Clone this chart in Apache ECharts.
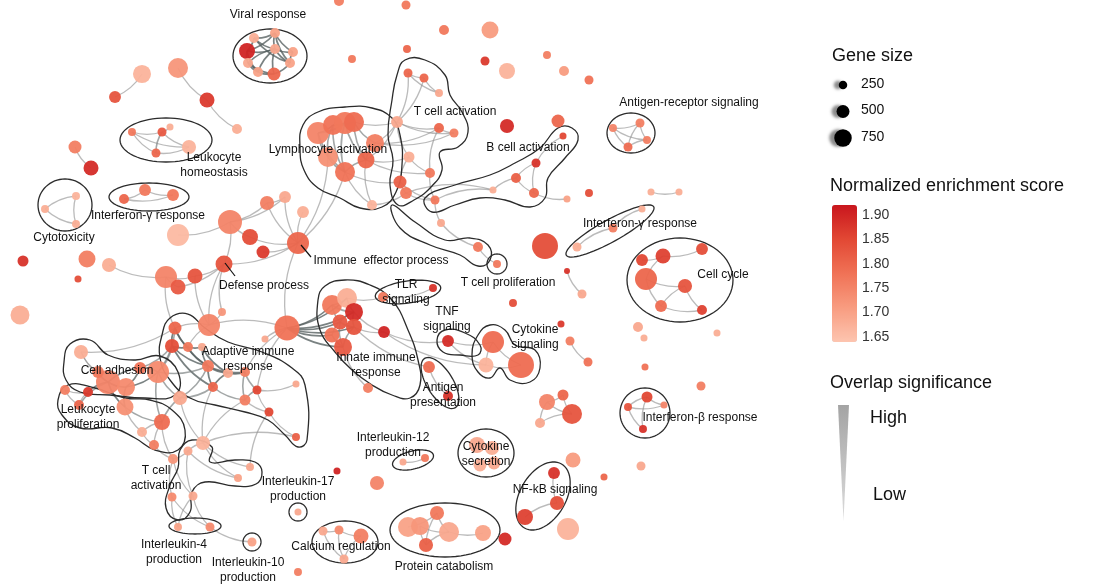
<!DOCTYPE html>
<html>
<head>
<meta charset="utf-8">
<script src="https://cdn.jsdelivr.net/npm/echarts/dist/echarts.min.js"></script>
<style>
  html, body { margin: 0; padding: 0; background: #ffffff; }
  #chart { width: 1115px; height: 588px; }
</style>
</head>
<body>
<div id="chart"></div>
<script>
// Enrichment map of immune gene sets.
// Each gene set: [id, layout x, layout y, normalized enrichment score, gene count]
const geneSets = [
  ['a1',115,97,1.83,440], ['a2',142,74,1.67,780], ['a3',178,68,1.72,890], ['a4',207,100,1.87,610], ['a5',237,129,1.68,330],
  ['lh1',132,132,1.77,220], ['lh2',162,132,1.82,280], ['lh3',170,127,1.68,170], ['lh4',156,153,1.80,280], ['lh5',189,147,1.67,560],
  ['p1',75,147,1.76,500], ['p2',91,168,1.89,610],
  ['ct1',76,196,1.67,220], ['ct2',45,209,1.68,220], ['ct3',76,224,1.68,220],
  ['ig1',124,199,1.80,330], ['ig2',145,190,1.77,440], ['ig3',173,195,1.77,440],
  ['s1',23,261,1.88,390], ['s2',87,259,1.76,720], ['s3',109,265,1.68,560], ['s4',78,279,1.84,170], ['s5',20,315,1.68,830],
  ['d1',166,277,1.75,1000], ['d2',178,287,1.82,610], ['d3',195,276,1.83,610], ['d4',178,235,1.66,1000],
  ['d5',224,264,1.83,720], ['d6',230,222,1.75,1110], ['d7',250,237,1.84,670], ['d8',263,252,1.87,500],
  ['d9',267,203,1.76,560], ['d10',285,197,1.69,440], ['d11',303,212,1.68,440], ['d12',298,243,1.80,1000],
  ['v1',247,51,1.90,670], ['v2',254,38,1.68,330], ['v3',275,33,1.70,330], ['v4',275,49,1.69,330], ['v5',293,52,1.70,330],
  ['v6',248,63,1.69,330], ['v7',258,72,1.70,330], ['v8',274,74,1.80,500], ['v9',290,63,1.70,330],
  ['la1',318,133,1.75,1000], ['la2',333,125,1.78,890], ['la3',345,123,1.77,1000], ['la4',354,122,1.79,890],
  ['la5',375,143,1.76,780], ['la6',366,160,1.80,720], ['la7',328,157,1.73,890], ['la8',345,172,1.78,890], ['la9',372,205,1.67,330],
  ['tc1',408,73,1.80,280], ['tc2',424,78,1.80,280], ['tc3',439,93,1.69,220], ['tc4',397,122,1.69,440], ['tc5',439,128,1.80,330],
  ['tc6',454,133,1.76,280], ['tc7',409,157,1.68,390], ['tc8',430,173,1.77,330], ['tc9',400,182,1.81,500], ['tc10',406,193,1.77,440],
  ['u1',339,1,1.76,330], ['u2',406,5,1.77,280], ['u3',444,30,1.77,330], ['u4',490,30,1.71,720], ['u5',407,49,1.80,220],
  ['u6',485,61,1.87,280], ['u7',507,71,1.67,670], ['u8',547,55,1.76,220], ['u9',564,71,1.71,330], ['u10',589,80,1.78,280],
  ['u11',507,126,1.89,560], ['u12',558,121,1.80,500], ['u13',352,59,1.77,220],
  ['b1',563,136,1.85,170], ['b2',536,163,1.88,280], ['b3',516,178,1.81,330], ['b4',534,193,1.80,330], ['b5',493,190,1.68,170],
  ['b6',567,199,1.70,170], ['b7',435,200,1.77,280], ['b8',441,223,1.69,220], ['b9',478,247,1.77,330], ['tp1',497,264,1.77,220],
  ['r1',589,193,1.84,220], ['r2',545,246,1.84,1220], ['r3',567,271,1.88,110], ['r4',582,294,1.69,280], ['r5',513,303,1.84,220],
  ['r6',561,324,1.87,170], ['r7',570,341,1.76,280], ['r8',588,362,1.78,280], ['r9',638,327,1.69,330], ['r10',644,338,1.68,170],
  ['r11',717,333,1.68,170], ['r12',645,367,1.78,170], ['r13',701,386,1.76,280], ['r14',641,466,1.69,280], ['r15',604,477,1.80,170],
  ['r16',651,192,1.68,170], ['r17',679,192,1.68,170],
  ['ar1',613,128,1.75,220], ['ar2',640,123,1.76,280], ['ar3',647,140,1.76,220], ['ar4',628,147,1.79,280],
  ['igr1',642,209,1.68,170], ['igr2',613,228,1.76,280], ['igr3',577,247,1.68,280],
  ['cc1',642,260,1.85,440], ['cc2',663,256,1.86,610], ['cc3',702,249,1.84,440], ['cc4',646,279,1.80,1000],
  ['cc5',685,286,1.83,560], ['cc6',661,306,1.79,440], ['cc7',702,310,1.86,330],
  ['ib1',647,397,1.85,390], ['ib2',628,407,1.83,220], ['ib3',664,405,1.75,170], ['ib4',643,429,1.88,220],
  ['q1',547,402,1.75,670], ['q2',563,395,1.80,390], ['q3',572,414,1.83,890], ['q4',540,423,1.69,330],
  ['q5',573,460,1.71,610], ['q6',568,529,1.67,1000], ['q7',505,539,1.89,500],
  ['nf1',554,473,1.88,440], ['nf2',557,503,1.84,560], ['nf3',525,517,1.86,670],
  ['cs1',477,445,1.69,670], ['cs2',492,448,1.68,560], ['cs3',480,465,1.68,500], ['cs4',494,463,1.69,500],
  ['il12a',403,462,1.69,170], ['il12b',425,458,1.77,220],
  ['pc1',408,527,1.70,890], ['pc2',420,526,1.72,780], ['pc3',437,513,1.77,560], ['pc4',449,532,1.69,890],
  ['pc5',483,533,1.70,670], ['pc6',426,545,1.81,560],
  ['ca1',323,531,1.69,280], ['ca2',339,530,1.74,280], ['ca3',361,536,1.76,610], ['ca4',344,559,1.69,280],
  ['il17',298,512,1.69,170], ['il10',252,542,1.70,280], ['m1',298,572,1.76,220], ['m2',377,483,1.75,560], ['m3',337,471,1.90,170],
  ['ce1',287,328,1.78,1170],
  ['in1',332,305,1.77,890], ['in2',347,298,1.68,890], ['in3',354,312,1.89,780], ['in4',340,322,1.82,610],
  ['in5',354,327,1.83,670], ['in6',332,335,1.78,610], ['in7',343,347,1.82,780], ['in8',384,332,1.90,440], ['in9',368,388,1.76,330],
  ['tlr1',383,297,1.77,330], ['tlr2',433,288,1.88,220], ['tnf1',448,341,1.89,440],
  ['cy1',493,342,1.79,1000], ['cy2',486,365,1.67,610], ['cy3',521,365,1.79,1220],
  ['ap1',429,367,1.79,440], ['ap2',448,396,1.88,330],
  ['c1',222,312,1.72,220], ['c2',265,339,1.69,170], ['ad0',209,325,1.75,1000],
  ['ad1',175,328,1.80,500], ['ad2',172,346,1.84,560], ['ad3',188,347,1.77,330], ['ad4',202,347,1.69,220],
  ['ad5',208,366,1.77,440], ['ad6',228,373,1.69,330], ['ad7',245,372,1.76,330], ['ad8',213,387,1.80,330],
  ['ad9',257,390,1.85,280], ['ad10',245,400,1.76,390], ['ad11',296,384,1.69,170], ['ad12',269,412,1.85,280], ['ad13',296,437,1.81,220],
  ['cl1',81,352,1.68,560], ['cl2',65,390,1.76,330], ['cl3',88,392,1.87,330], ['cl4',108,382,1.75,1110],
  ['cl5',126,387,1.74,780], ['cl6',158,372,1.74,1000], ['cl7',140,368,1.78,440], ['cl8',125,407,1.73,720],
  ['cl9',162,422,1.79,670], ['cl10',142,432,1.68,330], ['cl11',154,445,1.76,330], ['cl12',79,405,1.80,330],
  ['cl13',180,398,1.69,560], ['cl14',98,372,1.77,440],
  ['bt1',203,443,1.67,560], ['bt2',173,459,1.72,330], ['bt3',188,451,1.69,280], ['bt4',172,497,1.74,280],
  ['bt5',193,496,1.69,280], ['bt6',250,467,1.69,220], ['bt7',238,478,1.70,220],
  ['il4a',178,527,1.70,220], ['il4b',210,527,1.74,280]
];

// Overlap between gene sets: [from, to, overlap significance 1 (low) .. 3 (high)]
const overlaps = [
  ['a1','a2',1], ['a3','a4',1], ['a4','a5',1],
  ['lh1','lh2',1], ['lh1','lh4',1], ['lh2','lh4',2], ['lh2','lh3',1], ['lh1','lh5',1], ['lh2','lh5',1], ['lh4','lh5',1],
  ['p1','p2',1], ['ct1','ct2',1], ['ct2','ct3',1], ['ct1','ct3',1], ['ig1','ig2',1], ['ig2','ig3',1], ['ig1','ig3',1],
  ['s3','d1',1], ['d1','d2',1], ['d1','d3',1], ['d2','d5',1], ['d3','d5',1], ['d4','d6',1], ['d5','d6',1], ['d5','d12',1],
  ['d6','d7',1], ['d6','d9',1], ['d7','d12',1], ['d8','d12',1], ['d9','d12',1], ['d10','d12',1], ['d11','d12',1],
  ['d9','d10',1], ['d6','d10',1], ['d12','la8',1], ['d12','la7',1], ['d12','ce1',1], ['d5','ad0',1], ['d3','ad0',1],
  ['d5','c1',1], ['d1','ad1',1],
  ['v1','v2',3], ['v1','v4',3], ['v1','v6',3], ['v1','v7',3], ['v2','v3',3], ['v2','v4',3], ['v3','v4',3], ['v3','v5',3],
  ['v4','v5',3], ['v4','v6',3], ['v4','v7',3], ['v4','v8',3], ['v4','v9',3], ['v5','v9',3], ['v6','v7',3], ['v7','v8',3],
  ['v8','v9',3], ['v2','v9',3], ['v3','v9',3], ['v6','v8',3], ['v1','v3',3],
  ['la1','la2',3], ['la1','la3',2], ['la1','la7',2], ['la1','la8',2], ['la2','la3',3], ['la2','la4',2], ['la2','la7',2],
  ['la3','la4',3], ['la3','la8',2], ['la4','la5',2], ['la4','la6',2], ['la5','la6',2], ['la6','la8',2], ['la7','la8',2],
  ['la3','la6',2], ['la2','la8',2], ['la5','tc4',1], ['la4','tc4',1], ['la6','tc4',1], ['la5','tc5',1], ['la6','tc7',1],
  ['la8','tc9',1], ['la8','la9',1], ['la6','la9',1], ['la9','tc10',1], ['la6','tc8',1], ['la5','tc6',1],
  ['tc4','tc1',1], ['tc4','tc2',1], ['tc1','tc2',1], ['tc2','tc3',1], ['tc1','tc3',1], ['tc4','tc5',1], ['tc4','tc6',1],
  ['tc5','tc6',1], ['tc4','tc7',1], ['tc7','tc8',1], ['tc5','tc8',1], ['tc9','tc10',1], ['tc7','tc9',1],
  ['b1','b2',1], ['b2','b3',1], ['b3','b4',1], ['b2','b4',1], ['b3','b5',1], ['b5','tc10',1], ['b4','b6',1],
  ['tc10','b7',1], ['b7','b8',1], ['b8','b9',1], ['b9','tp1',1], ['tc8','b7',1], ['tc9','b7',1], ['b5','b7',1],
  ['ce1','in1',3], ['ce1','in2',3], ['ce1','in3',3], ['ce1','in4',3], ['ce1','in5',3], ['ce1','in6',3], ['ce1','in7',3],
  ['in1','in2',2], ['in1','in3',2], ['in1','in4',2], ['in2','in3',2], ['in3','in4',2], ['in3','in5',2], ['in4','in5',2],
  ['in4','in6',2], ['in5','in7',2], ['in6','in7',2], ['in4','in7',2], ['in5','in8',1], ['in3','in8',1], ['in7','in9',1],
  ['in8','tnf1',1], ['in2','tlr1',1], ['tlr1','tlr2',1], ['in5','ap1',1], ['ap1','ap2',1], ['tnf1','cy1',1], ['tnf1','cy2',1],
  ['cy1','cy2',1], ['cy1','cy3',1], ['cy2','cy3',1], ['in8','cy2',1], ['ce1','c2',1], ['ce1','ad0',1], ['ce1','ad7',1], ['ce1','ad9',1],
  ['ad0','c1',1], ['ad0','ad1',1], ['ad0','ad3',1], ['ad1','ad2',3], ['ad1','ad3',3], ['ad2','ad3',3], ['ad3','ad4',3],
  ['ad2','ad5',3], ['ad3','ad5',3], ['ad4','ad5',3], ['ad5','ad6',3], ['ad5','ad8',3], ['ad6','ad7',3], ['ad6','ad8',3],
  ['ad7','ad9',2], ['ad7','ad10',2], ['ad8','ad10',2], ['ad9','ad10',2], ['ad9','ad11',1], ['ad10','ad12',1], ['ad12','ad13',1],
  ['ad9','ad12',1], ['ad5','ad7',3], ['ad4','ad6',3], ['ad2','ad8',3], ['ad1','ad5',3],
  ['cl1','cl14',1], ['cl1','cl4',1], ['cl14','cl4',3], ['cl4','cl5',3], ['cl4','cl3',3], ['cl2','cl3',1], ['cl2','cl12',1],
  ['cl3','cl12',1], ['cl4','cl12',2], ['cl5','cl8',3], ['cl4','cl8',3], ['cl5','cl6',3], ['cl6','cl7',3], ['cl7','cl4',3],
  ['cl5','cl7',3], ['cl6','cl9',2], ['cl8','cl9',2], ['cl8','cl10',1], ['cl9','cl10',1], ['cl10','cl11',1], ['cl9','cl11',1],
  ['cl6','cl13',2], ['cl13','cl9',2], ['cl6','ad2',2], ['cl6','ad5',2], ['cl7','ad2',2], ['cl13','ad8',2], ['cl13','ad5',2],
  ['cl6','ad1',2], ['cl9','bt2',1], ['cl11','bt2',1], ['cl13','bt1',1], ['cl1','ad1',1],
  ['bt1','bt3',1], ['bt2','bt3',1], ['bt2','bt4',1], ['bt3','bt5',1], ['bt2','bt5',1], ['bt4','il4a',1], ['bt4','il4b',1],
  ['bt5','il4b',1], ['bt5','il4a',1], ['bt1','bt6',1], ['bt1','bt7',1], ['bt3','bt7',1], ['il4b','il10',1],
  ['ad13','bt1',1], ['ad8','bt1',1], ['ad10','bt1',1], ['ad12','bt6',1],
  ['r3','r4',1], ['r7','r8',1], ['r16','r17',1],
  ['ar1','ar2',1], ['ar1','ar3',1], ['ar1','ar4',1], ['ar2','ar3',1], ['ar2','ar4',1], ['ar3','ar4',1],
  ['igr1','igr2',1], ['igr2','igr3',1],
  ['cc1','cc2',1], ['cc2','cc3',1], ['cc2','cc4',1], ['cc4','cc5',1], ['cc5','cc6',1], ['cc5','cc7',1], ['cc6','cc7',1], ['cc4','cc6',1],
  ['ib1','ib2',1], ['ib1','ib3',1], ['ib2','ib4',1], ['ib1','ib4',1], ['ib2','ib3',1],
  ['q1','q2',1], ['q2','q3',1], ['q1','q3',1], ['q1','q4',1], ['q3','q4',1],
  ['nf1','nf2',1], ['nf2','nf3',1], ['il12a','il12b',1],
  ['pc1','pc3',1], ['pc3','pc4',1], ['pc3','pc6',1], ['pc2','pc6',1], ['pc4','pc6',1], ['pc4','pc5',1], ['pc2','pc4',1],
  ['ca1','ca2',1], ['ca2','ca3',1], ['ca2','ca4',1], ['ca3','ca4',1], ['ca1','ca4',1]
];

// Oval outlines around clusters: [centre x, centre y, radius x, radius y, tilt in degrees]
const ovalClusters = [
  [270,56,37,27,0], [166,140,46,22,0], [65,205,27,26,0], [149,197,40,14,0], [631,133,24,20,0],
  [610,231,50,11,-29], [680,280,53,42,0], [645,413,25,25,0], [497,264,10,10,0], [486,453,28,24,0],
  [413,460,21,9,-14], [543,496,37,23,-60], [445,530,55,27,0], [345,542,33,21,0], [298,512,9,9,0],
  [252,542,9,9,0], [195,526,26,8,0], [440,383,29,13,58], [408,292,33,11,-8]
];

// Free-form outlines around larger clusters (layout coordinates)
const blobClusters = [
  [[300,148],[303,125],[318,112],[345,107],[372,108],[392,118],[400,135],[402,165],[396,192],[382,207],[360,208],[340,198],[318,188],[304,170]],
  [[397,75],[405,60],[425,60],[445,75],[450,95],[462,112],[468,132],[458,147],[440,152],[442,170],[432,186],[414,200],[398,205],[390,185],[393,160],[388,135],[392,100]],
  [[392,205],[415,222],[445,240],[470,238],[488,245],[490,260],[478,266],[460,255],[430,245],[400,228]],
  [[425,198],[455,185],[490,175],[515,163],[540,148],[558,128],[572,128],[578,140],[565,158],[548,178],[545,198],[530,207],[505,200],[480,198],[455,205],[432,212]],
  [[318,300],[325,286],[345,280],[370,285],[392,300],[408,330],[418,360],[420,385],[410,398],[392,395],[372,385],[352,370],[335,352],[320,330]],
  [[437,340],[445,330],[465,333],[480,345],[478,355],[460,355],[443,352]],
  [[478,335],[490,325],[505,330],[515,345],[535,350],[540,368],[530,382],[510,380],[500,368],[490,378],[478,372],[472,355]],
  [[162,335],[170,318],[188,314],[205,328],[228,342],[262,352],[292,368],[305,385],[307,440],[298,447],[285,435],[268,420],[245,412],[215,405],[190,398],[170,380],[160,358]],
  [[64,362],[70,344],[90,340],[108,355],[135,360],[160,356],[178,372],[175,395],[145,398],[110,395],[80,392],[66,380]],
  [[58,400],[68,385],[95,388],[125,398],[150,400],[172,410],[185,430],[178,450],[155,450],[135,438],[112,428],[80,428],[62,415]],
  [[180,450],[192,440],[212,447],[210,462],[235,460],[255,462],[262,472],[256,484],[235,486],[205,482],[192,492],[190,512],[178,520],[166,508],[170,485],[178,468]]
];

// Cluster names and where they sit in the layout
const clusterLabels = [
  ['Viral response',268,15], ['Lymphocyte activation',328,150], ['T cell activation',455,112], ['B cell activation',528,148],
  ['Antigen-receptor signaling',689,103], ['Leukocyte\nhomeostasis',214,165], ['Interferon-γ response',148,216],
  ['Cytotoxicity',64,238], ['Immune  effector process',381,261], ['Defense process',264,286],
  ['Interferon-γ response',640,224], ['Cell cycle',723,275], ['T cell proliferation',508,283], ['TLR\nsignaling',406,292],
  ['TNF\nsignaling',447,319], ['Cytokine\nsignaling',535,337], ['Adaptive immune\nresponse',248,359],
  ['Innate immune\nresponse',376,365], ['Antigen\npresentation',443,395], ['Cell adhesion',117,371],
  ['Leukocyte\nproliferation',88,417], ['Interferon-β response',700,418], ['Interleukin-12\nproduction',393,445],
  ['Cytokine\nsecretion',486,454], ['NF-kB signaling',555,490], ['T cell\nactivation',156,478],
  ['Interleukin-17\nproduction',298,489], ['Interleukin-4\nproduction',174,552], ['Calcium regulation',341,547],
  ['Protein catabolism',444,567], ['Interleukin-10\nproduction',248,570]
];

// Short pointers from a hub gene set to its name
const pointers = [[[225,263],[235,276]], [[301,245],[311,257]]];

const sizeLegend = [250, 500, 750];
const nesScale = { min: 1.64, max: 1.92, tickMin: 1.65, tickMax: 1.90, tickStep: 0.05 };

const FONT = '"Liberation Sans", Arial, sans-serif';
const diameter = g => 4 + g * 0.018;
const byId = {};
geneSets.forEach(n => { byId[n[0]] = n; });

function ovalPoints(o) {
  const [cx, cy, rx, ry, deg] = o;
  const a = deg * Math.PI / 180, pts = [];
  for (let i = 0; i < 64; i++) {
    const t = i / 64 * Math.PI * 2;
    const ex = rx * Math.cos(t), ey = ry * Math.sin(t);
    pts.push([cx + ex * Math.cos(a) - ey * Math.sin(a), cy + ex * Math.sin(a) + ey * Math.cos(a)]);
  }
  return pts;
}
const outlines = ovalClusters.map(o => ({ pts: ovalPoints(o), smooth: 0 }))
  .concat(blobClusters.map(b => ({ pts: b, smooth: 0.45 })));

const chart = echarts.init(document.getElementById('chart'), null, { renderer: 'canvas' });

const edgeStyle = [
  null,
  { stroke: 'rgba(145,145,145,0.62)', lineWidth: 1.3 },
  { stroke: 'rgba(120,125,125,0.68)', lineWidth: 1.6 },
  { stroke: 'rgba(85,95,95,0.78)', lineWidth: 1.7 }
];

chart.setOption({
  animation: false,
  backgroundColor: '#ffffff',
  grid: [
    { left: 0, top: 0, width: 1115, height: 588 },
    { left: 856, top: 215, width: 1, height: 122 }
  ],
  xAxis: [
    { type: 'value', min: 0, max: 1115, show: false, gridIndex: 0 },
    { type: 'value', min: 0, max: 1, show: false, gridIndex: 1 }
  ],
  yAxis: [
    { type: 'value', min: 0, max: 588, inverse: true, show: false, gridIndex: 0 },
    {
      type: 'value', gridIndex: 1, position: 'right',
      min: nesScale.tickMin, max: nesScale.tickMax, interval: nesScale.tickStep,
      axisLine: { show: false }, axisTick: { show: false }, splitLine: { show: false },
      axisLabel: { formatter: v => v.toFixed(2), fontSize: 14, color: '#333', fontFamily: FONT, margin: 5 }
    }
  ],
  visualMap: {
    type: 'continuous', seriesIndex: 2, dimension: 2,
    min: nesScale.min, max: nesScale.max, calculable: false, realtime: false,
    left: 832, top: 205, itemWidth: 25, itemHeight: 137, padding: 0, text: null, showLabel: false,
    inRange: { color: ['#fdc5b0', '#f89c80', '#f07256', '#e24834', '#c9161d'] }
  },
  graphic: [
    { type: 'text', left: 832, top: 47, style: { text: 'Gene size', font: '18px ' + FONT, fill: '#111' } },
    { type: 'text', left: 830, top: 177, style: { text: 'Normalized enrichment score', font: '18px ' + FONT, fill: '#111' } },
    { type: 'text', left: 830, top: 374, style: { text: 'Overlap significance', font: '18px ' + FONT, fill: '#111' } },
    { type: 'text', left: 870, top: 409, style: { text: 'High', font: '18px ' + FONT, fill: '#111' } },
    { type: 'text', left: 873, top: 486, style: { text: 'Low', font: '18px ' + FONT, fill: '#111' } },
    {
      type: 'polygon', shape: { points: [[838, 405], [849, 405], [843.5, 521]] },
      style: { fill: new echarts.graphic.LinearGradient(0, 0, 0, 1, [
        { offset: 0, color: '#a4a4a4' }, { offset: 1, color: '#dcdcdc' }]) }
    }
  ].concat(sizeLegend.map((g, i) => ({
    type: 'text', left: 861, top: 77 + i * 26.5,
    style: { text: String(g), font: '14px ' + FONT, fill: '#111' }
  }))),
  series: [
    {
      // overlap edges
      type: 'custom', coordinateSystem: 'cartesian2d', xAxisIndex: 0, yAxisIndex: 0, z: 1, silent: true,
      data: overlaps.map((e, i) => [i]),
      renderItem: (params, api) => {
        const e = overlaps[params.dataIndex];
        const a = byId[e[0]], b = byId[e[1]];
        const p1 = api.coord([a[1], a[2]]), p2 = api.coord([b[1], b[2]]);
        const dx = p2[0] - p1[0], dy = p2[1] - p1[1];
        const k = 0.16;
        return {
          type: 'bezierCurve',
          shape: { x1: p1[0], y1: p1[1], x2: p2[0], y2: p2[1],
                   cpx1: (p1[0] + p2[0]) / 2 - dy * k, cpy1: (p1[1] + p2[1]) / 2 + dx * k },
          style: Object.assign({ fill: null }, edgeStyle[e[2]])
        };
      }
    },
    {
      // cluster outlines
      type: 'custom', coordinateSystem: 'cartesian2d', xAxisIndex: 0, yAxisIndex: 0, z: 2, silent: true,
      data: outlines.map((o, i) => [i]),
      renderItem: (params, api) => {
        const o = outlines[params.dataIndex];
        return {
          type: 'polygon',
          shape: { points: o.pts.map(p => api.coord(p)), smooth: o.smooth },
          style: { fill: null, stroke: '#2b2b2b', lineWidth: 1.3 }
        };
      }
    },
    {
      // gene sets
      type: 'scatter', xAxisIndex: 0, yAxisIndex: 0, z: 3, silent: true,
      data: geneSets.map(n => ({ name: n[0], value: [n[1], n[2], n[3], n[4]] })),
      symbolSize: v => diameter(v[3]),
      itemStyle: { opacity: 0.95 }
    },
    {
      // cluster names
      type: 'scatter', xAxisIndex: 0, yAxisIndex: 0, z: 5, silent: true,
      symbolSize: 1, itemStyle: { color: 'rgba(0,0,0,0)', opacity: 1 },
      data: clusterLabels.map(l => ({ name: l[0], value: [l[1], l[2]] })),
      label: {
        show: true, position: 'inside', formatter: p => p.name, opacity: 1,
        fontSize: 12, lineHeight: 15, color: '#111', fontFamily: FONT, align: 'center', verticalAlign: 'middle'
      }
    },
    {
      // gene size key
      type: 'scatter', xAxisIndex: 0, yAxisIndex: 0, z: 4, silent: true,
      data: sizeLegend.map((g, i) => [843, 85 + i * 26.5, g]),
      symbolSize: v => diameter(v[2]),
      itemStyle: { color: '#000', opacity: 1, shadowColor: 'rgba(0,0,0,0.45)', shadowBlur: 3, shadowOffsetX: -5 }
    },
    {
      type: 'lines', coordinateSystem: 'cartesian2d', xAxisIndex: 0, yAxisIndex: 0, z: 4, silent: true,
      data: pointers.map(p => ({ coords: p })),
      lineStyle: { color: '#111', width: 1.2, opacity: 1 }
    }
  ]
});
</script>
</body>
</html>
